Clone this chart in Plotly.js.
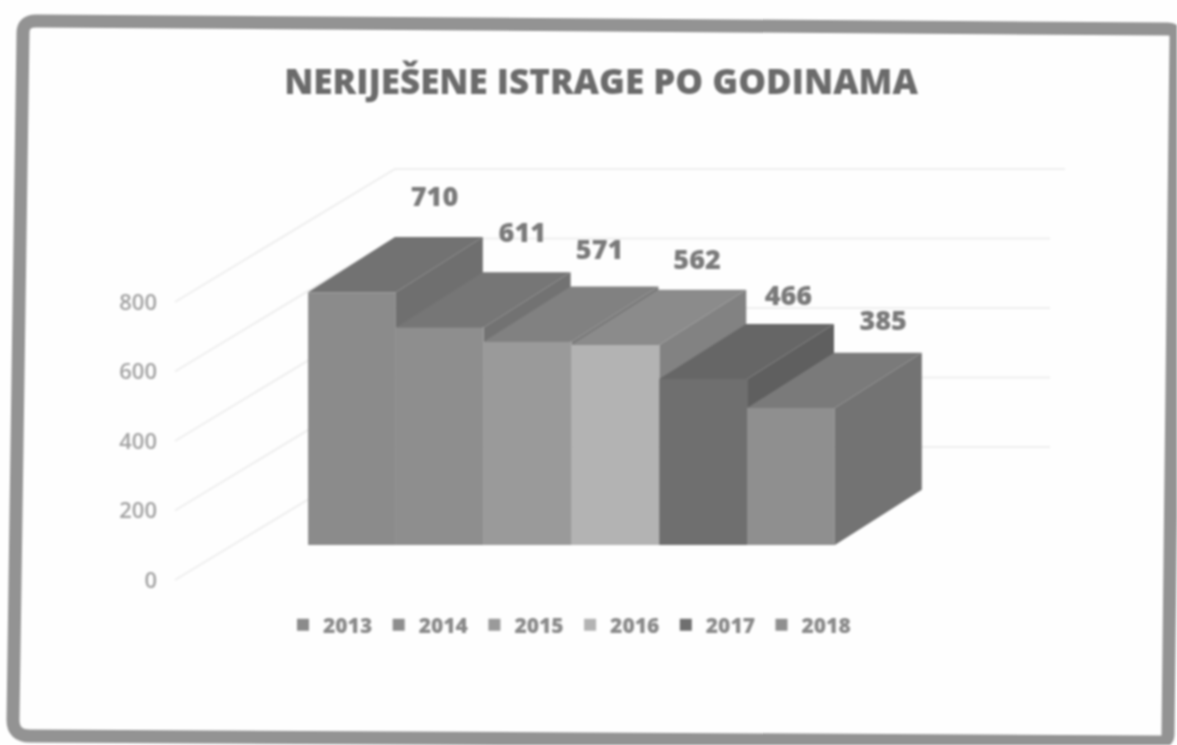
<!DOCTYPE html>
<html>
<head>
<meta charset="utf-8">
<script src="https://cdn.plot.ly/plotly-3.0.1.min.js"></script>
<style>
html,body{margin:0;padding:0;background:#fefefe;overflow:hidden}
#chart{width:1177px;height:745px;filter:blur(0.9px)}
</style>
</head>
<body>
<div id="chart"></div>
<script>
// --- chart data ---
const years = ["2013","2014","2015","2016","2017","2018"];
const values = [710,611,571,562,466,385];
const frontColors = ["#8b8b8b","#8e8e8e","#9a9a9a","#b3b3b3","#6f6f6f","#8f8f8f"];
const topColors = ["#727272","#767676","#818181","#8b8b8b","#666666","#7a7a7a"];
const sideColors = ["#6f6f6f","#727272","#7a7a7a","#828282","#5f5f5f","#737373"];
const labelDx = [0.94,0.94,0.82,0.93,0.97,1.05];
const labelLift = [261,258,250,233,227,238];
const axisTicks = [0,200,400,600,800];
const wallEnds = [7.95,7.95,7.95,7.95,8.12];
const titleText = "NERIJEŠENE ISTRAGE PO GODINAMA";

// --- scales of the fake 3D projection ---
const W = 1177, H = 745;
const barPx = 87.8, x0Px = 352;            // category width, centre of first bar
const basePx = 545, unitPx = 0.356;        // bar value axis
const tickZeroPx = 580, tickUnitPx = 0.3475; // tick label axis
const depthX = 0.99, depthY = 155;         // depth of the bars in axis units
const wallDepth = 383, wallLeft = -2.016, wallBack = 0.49;

const xRange = [(0 - x0Px) / barPx, (W - x0Px) / barPx];
const barRange = [(basePx - H) / unitPx, basePx / unitPx];
const tickRange = [(tickZeroPx - H) / tickUnitPx, tickZeroPx / tickUnitPx];

const traces = [];

// walls and grid lines
axisTicks.forEach((t, k) => {
  traces.push({
    type: "scatter", mode: "lines", xaxis: "x", yaxis: "y",
    x: [wallLeft, wallBack, wallEnds[k]],
    y: [t, t + wallDepth, t + wallDepth],
    line: {color: "#eeeeee", width: 2},
    showlegend: false, hoverinfo: "skip"
  });
});

// side and top faces, left to right
values.forEach((v, i) => {
  const l = i - 0.5, r = i + 0.5;
  traces.push({
    type: "scatter", mode: "lines", fill: "toself", xaxis: "x", yaxis: "y2",
    x: [r, r + depthX, r + depthX, r, r],
    y: [0, depthY, v + depthY, v, 0],
    fillcolor: sideColors[i], line: {width: 0, color: sideColors[i]},
    showlegend: false, hoverinfo: "skip"
  });
  traces.push({
    type: "scatter", mode: "lines", fill: "toself", xaxis: "x", yaxis: "y2",
    x: [l, r, r + depthX, l + depthX, l],
    y: [v, v, v + depthY, v + depthY, v],
    fillcolor: topColors[i], line: {width: 0, color: topColors[i]},
    showlegend: false, hoverinfo: "skip"
  });
});

// front faces
values.forEach((v, i) => {
  traces.push({
    type: "bar", xaxis: "x", yaxis: "y3",
    x: [i], y: [v], width: 1, name: years[i],
    marker: {color: frontColors[i], line: {width: 0}}
  });
});

// value labels
traces.push({
  type: "scatter", mode: "text", xaxis: "x", yaxis: "y3",
  x: values.map((v, i) => i + labelDx[i]),
  y: values.map((v, i) => v + labelLift[i]),
  text: values.map(String),
  textposition: "middle center",
  textfont: {family: "Open Sans", size: 27, color: "#7a7a7a", weight: 800},
  showlegend: false, hoverinfo: "skip"
});

// frame in page pixels
const px = (x, y) => (x / W).toFixed(5) + "," + (1 - y / H).toFixed(5);
const framePath = "M" + px(23, 33) + " Q" + px(23, 21) + " " + px(36, 21) +
  " L" + px(1168, 29) + " Q" + px(1176, 29) + " " + px(1176, 37) +
  " L" + px(1168, 734) + " Q" + px(1168, 742) + " " + px(1160, 742) +
  " L" + px(30, 736) + " Q" + px(13, 736) + " " + px(13, 720) + " Z";

const hidden = {visible: false, showgrid: false, zeroline: false};
const layout = {
  width: W, height: H,
  margin: {l: 0, r: 0, t: 0, b: 0},
  paper_bgcolor: "#fefefe", plot_bgcolor: "rgba(0,0,0,0)",
  barmode: "overlay", showlegend: true,
  title: {
    text: titleText, x: 601 / W, xanchor: "center", y: 1 - 82 / H, yanchor: "middle",
    font: {family: "Open Sans", size: 35, color: "#6b6b6b", weight: 800}
  },
  xaxis: Object.assign({range: xRange, fixedrange: true}, hidden),
  yaxis: {
    range: tickRange, anchor: "free", position: 157 / W,
    tickmode: "array", tickvals: axisTicks, ticktext: axisTicks.map(String),
    ticks: "", showline: false, showgrid: false, zeroline: false,
    tickfont: {family: "Open Sans", size: 22, color: "#a2a2a2", weight: 600},
    fixedrange: true
  },
  yaxis2: Object.assign({range: barRange, overlaying: "y"}, hidden),
  yaxis3: Object.assign({range: barRange, overlaying: "y"}, hidden),
  legend: {
    orientation: "h", x: 283 / W, xanchor: "left", y: 1 - 625 / H, yanchor: "middle",
    entrywidth: 50.7, entrywidthmode: "pixels", traceorder: "normal",
    font: {family: "Open Sans", size: 21, color: "#8a8a8a", weight: 800},
    bgcolor: "rgba(0,0,0,0)"
  },
  shapes: [{
    type: "path", xref: "paper", yref: "paper", path: framePath,
    line: {color: "#939393", width: 13}, fillcolor: "rgba(0,0,0,0)", layer: "above"
  }]
};
Plotly.newPlot("chart", traces, layout, {displayModeBar: false, staticPlot: true});
</script>
</body>
</html>
